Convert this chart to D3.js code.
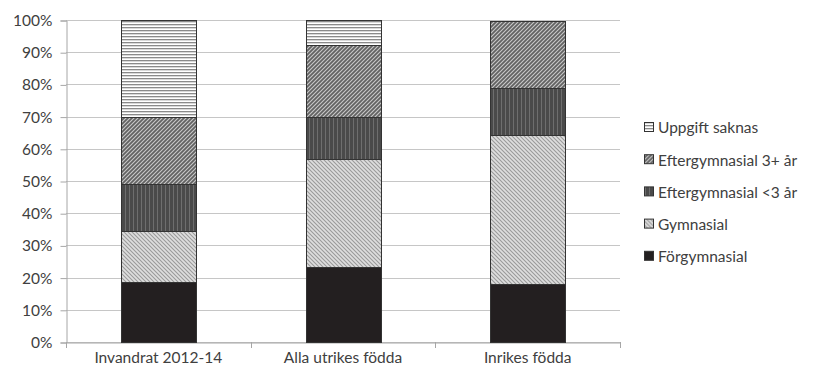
<!DOCTYPE html>
<html>
<head>
<meta charset="utf-8">
<script src="https://cdn.jsdelivr.net/npm/d3@7"></script>
<style>
  html, body { margin: 0; padding: 0; background: #fff; }
  svg { display: block; }
  text { font-family: Lato, "Open Sans", sans-serif; fill: #404040; }
</style>
</head>
<body>
<svg id="chart" width="813" height="372"></svg>
<script>
// Education level by origin group, share of population (%)
const categories = ["Invandrat 2012-14", "Alla utrikes födda", "Inrikes födda"];
const forgymnasial = [18.7, 23.4, 17.9];
const gymnasial = [15.8, 33.4, 46.4];
const eftergymKort = [14.5, 13.2, 14.5];
const eftergymLang = [21.0, 22.2, 20.9];
const uppgiftSaknas = [30.0, 7.8, 0.3];
const yTicks = [0, 10, 20, 30, 40, 50, 60, 70, 80, 90, 100];

const seriesNames = ["Förgymnasial", "Gymnasial", "Eftergymnasial <3 år", "Eftergymnasial 3+ år", "Uppgift saknas"];
const seriesValues = [forgymnasial, gymnasial, eftergymKort, eftergymLang, uppgiftSaknas];
const seriesFill = ["#231f20", "url(#p-gym)", "url(#p-kort)", "url(#p-lang)", "url(#p-saknas)"];

const rows = categories.map((c, i) => {
  const r = { cat: c };
  seriesNames.forEach((s, j) => r[s] = seriesValues[j][i]);
  return r;
});
const stacked = d3.stack().keys(seriesNames)(rows);

const svg = d3.select("#chart");
const plotLeft = 66, plotRight = 620, plotTop = 20, plotBottom = 342;
const fontSize = "15.5px";

const x = d3.scaleBand().domain(categories).range([plotLeft, plotRight]).paddingInner(0.595).paddingOuter(0.2975);
const y = d3.scaleLinear().domain([0, 100]).range([plotBottom, plotTop]);

// fill patterns
const defs = svg.append("defs");
function pattern(id, size, bg, draw) {
  const p = defs.append("pattern").attr("id", id).attr("patternUnits", "userSpaceOnUse")
    .attr("width", size).attr("height", size);
  p.append("rect").attr("width", size).attr("height", size).attr("fill", bg);
  draw(p);
}
pattern("p-saknas", 3, "#ffffff", p => {
  p.append("rect").attr("x", 0).attr("y", 0).attr("width", 3).attr("height", 1).attr("fill", "#8a8a8a");
  p.append("rect").attr("x", 0).attr("y", 1).attr("width", 3).attr("height", 1).attr("fill", "#d8d8d8");
});
pattern("p-lang", 4, "#626262", p => {
  p.append("path").attr("d", "M-1,1 L1,-1 M0,4 L4,0 M3,5 L5,3").attr("stroke", "#c8c8c8").attr("stroke-width", 1.1);
});
pattern("p-kort", 4, "#4a4a4a", p => {
  p.append("rect").attr("x", 1).attr("y", 0).attr("width", 1).attr("height", 4).attr("fill", "#6e6e6e");
});
pattern("p-gym", 4, "#dedede", p => {
  p.append("path").attr("d", "M-1,3 L1,5 M0,0 L4,4 M3,-1 L5,1").attr("stroke", "#9a9a9a").attr("stroke-width", 1.1);
});

// gridlines
svg.append("g").selectAll("line").data(yTicks).join("line")
  .attr("x1", plotLeft).attr("x2", plotRight)
  .attr("y1", d => Math.round(y(d)) + 0.5).attr("y2", d => Math.round(y(d)) + 0.5)
  .attr("stroke", "#c6c6c6").attr("stroke-width", 1);

// y axis
const yAxis = svg.append("g").attr("transform", `translate(${plotLeft + 0.5},0.5)`)
  .call(d3.axisLeft(y).tickValues(yTicks).tickFormat(d => d + "%").tickSize(6).tickPadding(8));
yAxis.select(".domain").attr("stroke", "#a6a6a6");
yAxis.selectAll(".tick line").attr("stroke", "#a6a6a6");
yAxis.selectAll("text").style("font-size", fontSize).style("font-family", "Lato, 'Open Sans', sans-serif").attr("fill", "#404040");

// x axis
const xAxis = svg.append("g").attr("transform", `translate(0,${Math.round(plotBottom) + 0.5})`)
  .call(d3.axisBottom(x).tickSize(0).tickPadding(9));
xAxis.select(".domain").attr("stroke", "#a6a6a6");
xAxis.selectAll("text").style("font-size", fontSize).style("font-family", "Lato, 'Open Sans', sans-serif").attr("fill", "#404040");
// category boundary ticks
svg.append("g").selectAll("line").data(d3.range(categories.length + 1)).join("line")
  .attr("x1", i => Math.round(plotLeft + i * (plotRight - plotLeft) / categories.length) + 0.5)
  .attr("x2", i => Math.round(plotLeft + i * (plotRight - plotLeft) / categories.length) + 0.5)
  .attr("y1", plotBottom).attr("y2", plotBottom + 6)
  .attr("stroke", "#a6a6a6");

// stacked bars
svg.append("g").selectAll("g").data(stacked).join("g")
  .attr("fill", (d, i) => seriesFill[i])
  .selectAll("rect").data(d => d.filter(s => s[1] - s[0] > 0.5)).join("rect")
  .attr("x", d => Math.round(x(d.data.cat)) + 0.5)
  .attr("width", Math.round(x.bandwidth()))
  .attr("y", d => Math.round(y(d[1])) + 0.5)
  .attr("height", d => Math.round(y(d[0])) - Math.round(y(d[1])))
  .attr("stroke", "#333333").attr("stroke-width", 1);

// legend
const legendOrder = [4, 3, 2, 1, 0];
const leg = svg.append("g").selectAll("g").data(legendOrder).join("g")
  .attr("transform", (d, i) => `translate(644,${128 + i * 32.2})`);
leg.append("rect").attr("x", 0.5).attr("y", -5.5).attr("width", 9).attr("height", 9)
  .attr("fill", d => seriesFill[d]).attr("stroke", "#333").attr("stroke-width", 1);
leg.append("text").attr("x", 14).attr("y", 0).attr("dy", "0.35em")
  .style("font-size", fontSize).text(d => seriesNames[d]);
</script>
</body>
</html>
